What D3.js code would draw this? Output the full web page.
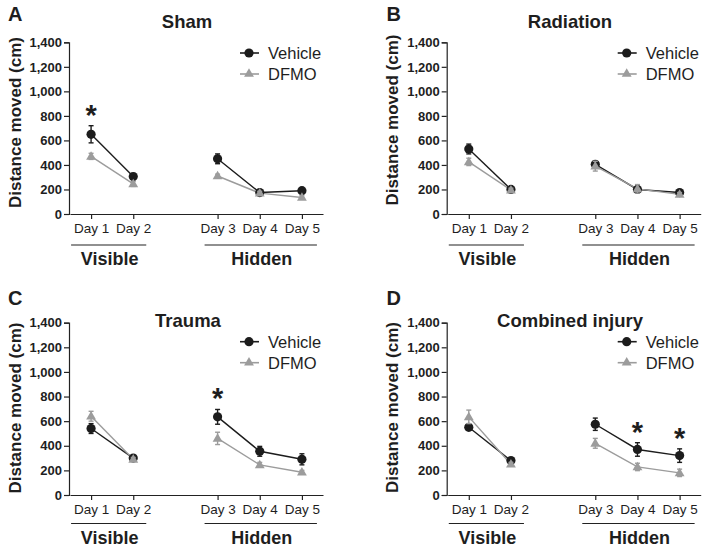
<!DOCTYPE html>
<html>
<head>
<meta charset="utf-8">
<script src="https://cdn.jsdelivr.net/npm/d3@7/dist/d3.min.js"></script>
<style>
  html, body { margin: 0; padding: 0; background: #fff; }
  svg { display: block; font-family: "Liberation Sans", Arial, Helvetica, sans-serif; }
</style>
</head>
<body>
<svg id="chart" width="713" height="551"></svg>
<script>
// ---------------- DATA ----------------
const days = ["Day 1", "Day 2", "Day 3", "Day 4", "Day 5"];
const dayPos = [1, 2, 4, 5, 6];
const yTicks = [0, 200, 400, 600, 800, 1000, 1200, 1400];
const seriesNames = ["Vehicle", "DFMO"];
const panelTitles = ["Sham", "Radiation", "Trauma", "Combined injury"];
const panelLetters = ["A", "B", "C", "D"];
const groupLabels = ["Visible", "Hidden"];

const shamVehicle = [650, 305, 450, 175, 190];
const shamVehicleErr = [70, 25, 40, 15, 15];
const shamDFMO = [470, 245, 310, 170, 135];
const shamDFMOErr = [25, 20, 15, 15, 15];

const radVehicle = [530, 200, 405, 200, 175];
const radVehicleErr = [40, 15, 25, 20, 15];
const radDFMO = [425, 195, 390, 205, 160];
const radDFMOErr = [30, 15, 40, 35, 15];

const traumaVehicle = [540, 300, 635, 355, 290];
const traumaVehicleErr = [40, 20, 60, 40, 45];
const traumaDFMO = [640, 290, 460, 245, 185];
const traumaDFMOErr = [40, 15, 50, 20, 15];

const combVehicle = [550, 280, 575, 370, 320];
const combVehicleErr = [20, 20, 50, 55, 55];
const combDFMO = [635, 250, 420, 228, 180];
const combDFMOErr = [55, 15, 40, 30, 30];

// significance markers (index of day) per panel
const shamStars = [0];
const radStars = [];
const traumaStars = [2];
const combStars = [3, 4];

// ---------------- LAYOUT ----------------
const colors = { Vehicle: "#1c1c1c", DFMO: "#9c9c9c" };
const textColor = "#1e1e1e";

const panels = [
  { letter: panelLetters[0], title: panelTitles[0], veh: shamVehicle, vehE: shamVehicleErr, dfmo: shamDFMO, dfmoE: shamDFMOErr, stars: shamStars,
    left: 69, top: 42.3, bottom: 214, titleX: 187, titleY: 27.5, legY: 53, letX: 8, letY: 20.5, ylabY: 122.5, ylabX: 20.5, uline: 31 },
  { letter: panelLetters[1], title: panelTitles[1], veh: radVehicle, vehE: radVehicleErr, dfmo: radDFMO, dfmoE: radDFMOErr, stars: radStars,
    left: 446.7, top: 42.3, bottom: 214, titleX: 570, titleY: 27.5, legY: 53, letX: 386.5, letY: 20.5, ylabY: 120, ylabX: 397.5, uline: 31 },
  { letter: panelLetters[2], title: panelTitles[2], veh: traumaVehicle, vehE: traumaVehicleErr, dfmo: traumaDFMO, dfmoE: traumaDFMOErr, stars: traumaStars,
    left: 69, top: 322.7, bottom: 495, titleX: 188, titleY: 326.5, legY: 341.7, letX: 8, letY: 305, ylabY: 408, ylabX: 20.5, uline: 28.5 },
  { letter: panelLetters[3], title: panelTitles[3], veh: combVehicle, vehE: combVehicleErr, dfmo: combDFMO, dfmoE: combDFMOErr, stars: combStars,
    left: 446.7, top: 322.7, bottom: 495, titleX: 570, titleY: 326.5, legY: 341.7, letX: 386.5, letY: 305, ylabY: 407.5, ylabX: 397.5, uline: 28.5 }
];

const svg = d3.select("#chart");
const triangle = d3.symbol().type(d3.symbolTriangle).size(42);

panels.forEach(p => {
  const g = svg.append("g");
  const x = d3.scaleLinear().domain([0.5, 6.5]).range([p.left + 1, p.left + 254]);
  const y = d3.scaleLinear().domain([0, 1400]).range([p.bottom, p.top]);

  // Panel letter
  g.append("text").attr("x", p.letX).attr("y", p.letY)
    .attr("font-size", 20).attr("font-weight", "bold").attr("fill", textColor).text(p.letter);

  // Title
  g.append("text").attr("x", p.titleX).attr("y", p.titleY).attr("text-anchor", "middle")
    .attr("font-size", 18.5).attr("font-weight", "bold").attr("fill", textColor).text(p.title);

  // Y axis
  const yAxis = g.append("g").attr("transform", `translate(${p.left},0)`)
    .call(d3.axisLeft(y).tickValues(yTicks).tickFormat(d3.format(",")).tickSize(5).tickPadding(2));
  yAxis.select(".domain").attr("stroke", "#222").attr("stroke-width", 1.2);
  yAxis.selectAll(".tick line").attr("stroke", "#222").attr("stroke-width", 1.2);
  yAxis.selectAll(".tick text").attr("font-size", 13).attr("font-weight", "bold")
    .attr("fill", textColor).attr("font-family", "\"Liberation Sans\", Arial, sans-serif");

  // X axis
  const xAxis = g.append("g").attr("transform", `translate(0,${p.bottom})`)
    .call(d3.axisBottom(x).tickValues(dayPos).tickFormat((d, i) => days[i]).tickSize(5).tickSizeOuter(0).tickPadding(4));
  xAxis.select(".domain").attr("stroke", "#222").attr("stroke-width", 1.2);
  xAxis.selectAll(".tick line").attr("stroke", "#222").attr("stroke-width", 1.2);
  xAxis.selectAll(".tick text").attr("font-size", 13.5).attr("fill", textColor)
    .attr("font-family", "\"Liberation Sans\", Arial, sans-serif");

  // Y axis label
  g.append("text")
    .attr("transform", `translate(${p.ylabX},${p.ylabY}) rotate(-90)`)
    .attr("text-anchor", "middle").attr("font-size", 17).attr("font-weight", "bold")
    .attr("fill", textColor).text("Distance moved (cm)");

  // Group underlines and labels
  const groups = [
    { label: groupLabels[0], x0: x(dayPos[0]) - 20, x1: x(dayPos[1]) + 13 },
    { label: groupLabels[1], x0: x(dayPos[2]) - 13, x1: x(dayPos[4]) + 15 }
  ];
  groups.forEach(gr => {
    g.append("line").attr("x1", gr.x0).attr("x2", gr.x1)
      .attr("y1", p.bottom + p.uline).attr("y2", p.bottom + p.uline)
      .attr("stroke", "#222").attr("stroke-width", 1.2);
    g.append("text").attr("x", (gr.x0 + gr.x1) / 2 + 1).attr("y", p.bottom + p.uline + 20)
      .attr("text-anchor", "middle").attr("font-size", 18).attr("font-weight", "bold")
      .attr("fill", textColor).text(gr.label);
  });

  // Series
  const series = [
    { name: seriesNames[0], vals: p.veh, errs: p.vehE },
    { name: seriesNames[1], vals: p.dfmo, errs: p.dfmoE }
  ];
  const line = d3.line().x(d => x(d.pos)).y(d => y(d.v));
  const segments = [[0, 1], [2, 3, 4]];

  series.forEach(s => {
    const c = colors[s.name];
    segments.forEach(seg => {
      const pts = seg.map(i => ({ pos: dayPos[i], v: s.vals[i] }));
      g.append("path").attr("d", line(pts)).attr("fill", "none")
        .attr("stroke", c).attr("stroke-width", 1.4);
    });
  });
  series.forEach(s => {
    const c = colors[s.name];
    s.vals.forEach((v, i) => {
      const cx = x(dayPos[i]);
      const e = s.errs[i];
      g.append("line").attr("x1", cx).attr("x2", cx).attr("y1", y(v - e)).attr("y2", y(v + e))
        .attr("stroke", c).attr("stroke-width", 1.4);
      [v - e, v + e].forEach(ev => {
        g.append("line").attr("x1", cx - 2.5).attr("x2", cx + 2.5).attr("y1", y(ev)).attr("y2", y(ev))
          .attr("stroke", c).attr("stroke-width", 1.4);
      });
      if (s.name === "Vehicle") {
        g.append("circle").attr("cx", cx).attr("cy", y(v)).attr("r", 4.6).attr("fill", c);
      } else {
        g.append("path").attr("d", triangle).attr("transform", `translate(${cx},${y(v) + 0.5})`).attr("fill", c);
      }
    });
  });

  // Stars
  p.stars.forEach(i => {
    const cx = x(dayPos[i]);
    const top = y(p.veh[i] + p.vehE[i]);
    g.append("text").attr("x", cx).attr("y", top - 1)
      .attr("text-anchor", "middle").attr("font-size", 29).attr("font-weight", "bold")
      .attr("fill", textColor).text("*");
  });

  // Legend
  series.forEach((s, k) => {
    const c = colors[s.name];
    const ly = p.legY + k * 21;
    const lx = p.left + 180;
    g.append("line").attr("x1", lx - 9).attr("x2", lx + 10).attr("y1", ly).attr("y2", ly)
      .attr("stroke", c).attr("stroke-width", 1.6);
    if (s.name === "Vehicle") {
      g.append("circle").attr("cx", lx).attr("cy", ly).attr("r", 4.6).attr("fill", c);
    } else {
      g.append("path").attr("d", triangle).attr("transform", `translate(${lx},${ly})`).attr("fill", c);
    }
    g.append("text").attr("x", p.left + 199).attr("y", ly + 6)
      .attr("font-size", 16.5).attr("fill", textColor).text(s.name);
  });
});
</script>
</body>
</html>
